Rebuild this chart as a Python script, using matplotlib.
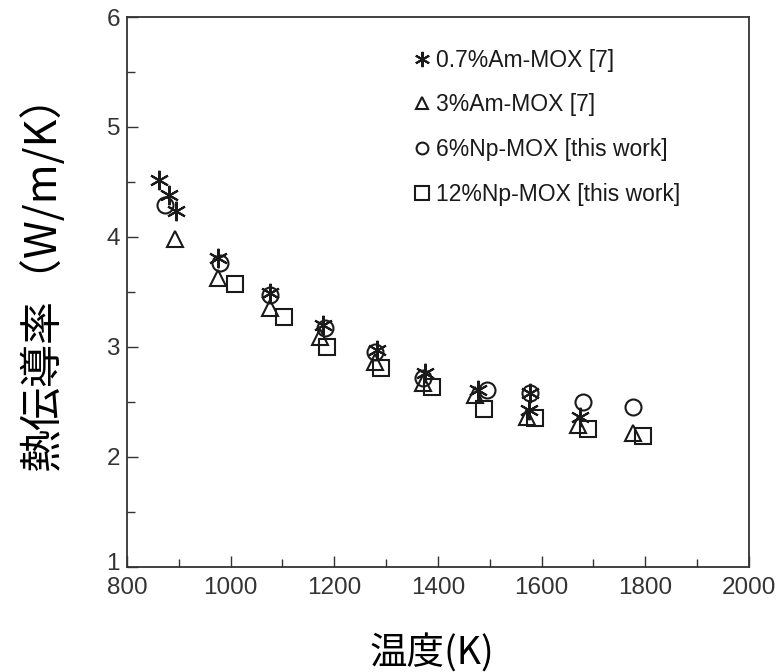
import numpy as np
import matplotlib
matplotlib.use("Agg")
import matplotlib.pyplot as plt
from matplotlib.lines import Line2D
from matplotlib.transforms import ScaledTranslation

plt.rcParams['font.family'] = ['Liberation Sans', 'DejaVu Sans']

# 0.7%Am-MOX [7]
t_am07 = [862, 881, 895, 976, 1076, 1178, 1282, 1375, 1477, 1578, 1575, 1674]
k_am07 = [4.52, 4.38, 4.24, 3.81, 3.49, 3.20, 2.97, 2.76, 2.61, 2.58, 2.43, 2.36]

# 3%Am-MOX [7]
t_am3 = [893, 976, 1076, 1172, 1278, 1371, 1471, 1572, 1670, 1776]
k_am3 = [3.98, 3.63, 3.35, 3.09, 2.86, 2.67, 2.56, 2.36, 2.29, 2.22]

# 6%Np-MOX [this work]
t_np6 = [873, 979, 1076, 1182, 1278, 1371, 1494, 1578, 1680, 1776]
k_np6 = [4.29, 3.76, 3.47, 3.17, 2.95, 2.72, 2.61, 2.58, 2.50, 2.45]

# 12%Np-MOX [this work]
t_np12 = [1008, 1103, 1186, 1290, 1388, 1489, 1587, 1689, 1796]
k_np12 = [3.57, 3.27, 3.00, 2.81, 2.64, 2.44, 2.35, 2.25, 2.19]

labels = ["0.7%Am-MOX [7]", "3%Am-MOX [7]",
          "6%Np-MOX [this work]", "12%Np-MOX [this work]"]

fig = plt.figure(figsize=(7.81, 6.72), dpi=100)
ax = fig.add_axes([0.1626, 0.1563, 0.7964, 0.8184])

mk = dict(linestyle='none', markerfacecolor='none', markeredgecolor='#1a1a1a',
          markeredgewidth=1.5)
ax.plot(t_am07, k_am07, marker=(6, 2, 0), markersize=14, color='#1a1a1a', **mk)
ax.plot(t_am3, k_am3, marker='^', markersize=12, **mk)
ax.plot(t_np6, k_np6, marker='o', markersize=11.5, **mk)
ax.plot(t_np12, k_np12, marker='s', markersize=11.5, **mk)

ax.set_xlim(800, 2000)
ax.set_ylim(1, 6)
ax.set_xticks(np.arange(800, 2001, 200))
ax.set_xticks(np.arange(900, 2000, 200), minor=True)
ax.set_yticks(np.arange(1, 7, 1))
ax.set_yticks(np.arange(1.5, 6, 1), minor=True)
ax.tick_params(which='both', direction='in', top=False, right=False,
               labelsize=17.5, labelcolor='#333333', color='#333333', width=1)
ax.tick_params(which='major', length=8)
ax.tick_params(which='minor', length=6)
ax.tick_params(axis='x', which='both', pad=7)
ax.tick_params(axis='y', which='both', pad=5)
for s in ax.spines.values():
    s.set_color('#333333')
    s.set_linewidth(1.3)

# lift the "1" a little so it clears the "800" underneath
lbl = ax.yaxis.get_major_ticks()[0].label1
lbl.set_transform(lbl.get_transform() + ScaledTranslation(0, 5 / 100, fig.dpi_scale_trans))

cjk = ['Noto Sans CJK JP', 'DejaVu Sans']
ax.set_ylabel("熱伝導率（W/m/K）", family=cjk, fontsize=31)
ax.yaxis.set_label_coords(-0.1, 0.535)
ax.set_xlabel("温度(K)", family=cjk, fontsize=27)
ax.xaxis.set_label_coords(0.49, -0.122)

handles = [
    Line2D([], [], marker=(6, 2, 0), markersize=11, color='#1a1a1a', **mk),
    Line2D([], [], marker='^', markersize=9, **mk),
    Line2D([], [], marker='o', markersize=8.5, **mk),
    Line2D([], [], marker='s', markersize=9.5, **mk),
]
ax.legend(handles, labels, loc='upper left', bbox_to_anchor=(0.43, 0.98),
          frameon=False, fontsize=16.5, handlelength=0.6, handletextpad=0.3,
          labelspacing=0.95, labelcolor='#1a1a1a')

fig.savefig("out.png", dpi=100)
